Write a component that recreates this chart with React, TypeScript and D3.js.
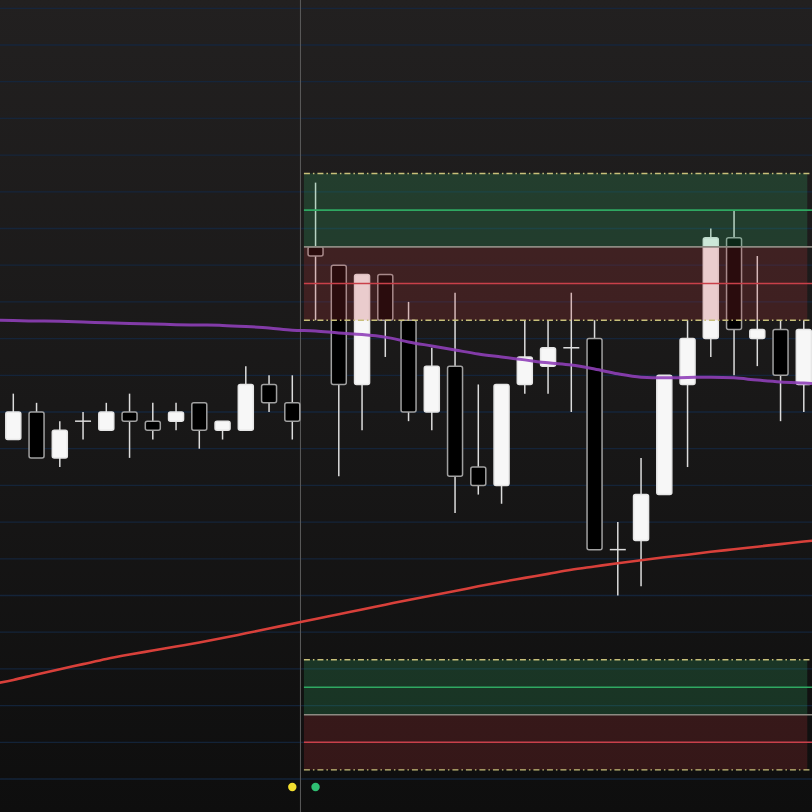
import * as d3 from "d3";

const W = 812;
const H = 812;

// OHLC per bar (index 0..34)
const opens = [
  4489.25, 4490.0, 4488.75, 4489.75, 4489.5, 4490.0, 4489.75, 4489.75, 4490.25, 4489.5, 4489.5, 4490.75, 4490.25,
  4494.5, 4494.0, 4490.75, 4493.75, 4492.5, 4490.0, 4491.25, 4488.5, 4488.0, 4490.75, 4491.25, 4491.75, 4492.0,
  4486.25, 4486.5, 4487.75, 4490.75, 4492.0, 4494.75, 4492.0, 4492.25, 4490.75,
];
const highs = [
  4490.5, 4490.25, 4489.75, 4490.0, 4490.25, 4490.5, 4490.25, 4490.25, 4490.25, 4489.75, 4491.25, 4491.0, 4491.0,
  4496.25, 4494.0, 4493.75, 4493.75, 4493.0, 4491.75, 4493.25, 4490.75, 4490.75, 4492.5, 4492.5, 4493.25, 4492.5,
  4487.0, 4488.75, 4491.0, 4492.5, 4495.0, 4495.5, 4494.25, 4492.5, 4492.5,
];
const lows = [
  4489.25, 4488.75, 4488.5, 4489.25, 4489.5, 4488.75, 4489.25, 4489.5, 4489.0, 4489.25, 4489.5, 4490.0, 4489.25,
  4492.5, 4488.25, 4489.5, 4491.5, 4489.75, 4489.5, 4487.25, 4487.75, 4487.5, 4490.5, 4490.5, 4490.0, 4486.25,
  4485.0, 4485.25, 4487.75, 4488.5, 4491.5, 4491.0, 4491.25, 4489.75, 4490.0,
];
const closes = [
  4490.0, 4488.75, 4489.5, 4489.75, 4490.0, 4489.75, 4489.5, 4490.0, 4489.5, 4489.75, 4490.75, 4490.25, 4489.75,
  4494.25, 4490.75, 4493.75, 4492.5, 4490.0, 4491.25, 4488.25, 4488.0, 4490.75, 4491.5, 4491.75, 4491.75, 4486.25,
  4486.25, 4487.75, 4491.0, 4492.0, 4494.75, 4492.25, 4492.25, 4491.0, 4492.25,
];

// moving averages, index -1..35
const maFast = [
  4492.51, 4492.49, 4492.48, 4492.47, 4492.45, 4492.43, 4492.41, 4492.4, 4492.38, 4492.37, 4492.36, 4492.33, 4492.29,
  4492.23, 4492.21, 4492.15, 4492.11, 4492.04, 4491.91, 4491.8, 4491.69, 4491.58, 4491.5, 4491.42, 4491.34, 4491.28,
  4491.17, 4491.04, 4490.95, 4490.93, 4490.94, 4490.95, 4490.93, 4490.87, 4490.82, 4490.79, 4490.76,
];
const maSlow = [
  4482.57, 4482.7, 4482.85, 4482.99, 4483.13, 4483.27, 4483.39, 4483.5, 4483.61, 4483.72, 4483.84, 4483.97, 4484.1,
  4484.23, 4484.36, 4484.49, 4484.62, 4484.75, 4484.88, 4485.0, 4485.12, 4485.25, 4485.37, 4485.48, 4485.59, 4485.7,
  4485.79, 4485.88, 4485.96, 4486.04, 4486.11, 4486.19, 4486.26, 4486.33, 4486.4, 4486.47, 4486.53,
];

// projected zones
const zoneHighs = [4496.5, 4483.25];
const zoneTargets = [4495.5, 4482.5];
const zoneMids = [4494.5, 4481.75];
const zoneStops = [4493.5, 4481.0];
const zoneLows = [4492.5, 4480.25];
const zoneFrom = 12.5;
const zoneTo = 34.15;

const sessionBreak = 12.35;
const signalIdx = [12, 13];
const signalColors = ["#f3df2f", "#2fbf72"];

const gridLevels = d3.range(4479, 4502, 1);

export default function App() {
  const x = d3.scaleLinear().domain([0, 34]).range([13.3, 803.8]);
  const y = d3.scaleLinear().domain([4480, 4501]).range([779, 8.3]);
  const bodyW = 15;

  const line = d3
    .line<number>()
    .x((_, i) => x(i - 1))
    .y((d) => y(d))
    .curve(d3.curveMonotoneX);

  return (
    <svg
      width={W}
      height={H}
      style={{ position: "absolute", left: 0, top: 0, display: "block" }}
    >
      <defs>
        <linearGradient id="bg" x1="0" y1="0" x2="0" y2="1">
          <stop offset="0" stopColor="#222020" />
          <stop offset="0.5" stopColor="#191818" />
          <stop offset="1" stopColor="#0e0e0e" />
        </linearGradient>
      </defs>
      <rect width={W} height={H} fill="url(#bg)" />

      {gridLevels.map((p) => (
        <line key={p} x1={0} x2={W} y1={y(p)} y2={y(p)} stroke="#142740" strokeWidth={1.3} opacity={0.85} />
      ))}

      <line x1={x(sessionBreak)} x2={x(sessionBreak)} y1={0} y2={H} stroke="#5c5c5c" strokeWidth={1} />

      {/* candles */}
      {opens.map((o, i) => {
        const c = closes[i];
        const cx = x(i);
        const up = c >= o;
        const doji = Math.abs(c - o) < 0.01;
        const top = y(Math.max(o, c));
        const bot = y(Math.min(o, c));
        return (
          <g key={i}>
            <line x1={cx} x2={cx} y1={y(highs[i])} y2={y(lows[i])} stroke="#dcdcdc" strokeWidth={1.5} />
            {doji ? (
              <line x1={cx - 8} x2={cx + 8} y1={top} y2={top} stroke="#dcdcdc" strokeWidth={1.5} />
            ) : (
              <rect
                x={cx - bodyW / 2}
                y={top}
                width={bodyW}
                height={Math.max(1, bot - top)}
                rx={2}
                fill={up ? "#f7f7f7" : "#000"}
                stroke={up ? "#e6e6e6" : "#a0a0a0"}
                strokeWidth={1.5}
              />
            )}
          </g>
        );
      })}

      <path d={line(maSlow) ?? ""} fill="none" stroke="#d8403a" strokeWidth={2.6} />
      <path d={line(maFast) ?? ""} fill="none" stroke="#8f3fb8" strokeWidth={3} opacity={0.9} />

      {/* zones */}
      {zoneHighs.map((hi, k) => {
        const x0 = x(zoneFrom);
        const x1 = x(zoneTo);
        const xEnd = W;
        return (
          <g key={k}>
            <rect x={x0} y={y(hi)} width={x1 - x0} height={y(zoneMids[k]) - y(hi)} fill="rgba(55,182,109,0.22)" />
            <rect
              x={x0}
              y={y(zoneMids[k])}
              width={x1 - x0}
              height={y(zoneLows[k]) - y(zoneMids[k])}
              fill="rgba(190,55,60,0.22)"
            />
            <line x1={x0} x2={xEnd} y1={y(zoneTargets[k])} y2={y(zoneTargets[k])} stroke="#2fa862" strokeWidth={1.6} />
            <line x1={x0} x2={xEnd} y1={y(zoneMids[k])} y2={y(zoneMids[k])} stroke="#8c8a82" strokeWidth={1.6} />
            <line x1={x0} x2={xEnd} y1={y(zoneStops[k])} y2={y(zoneStops[k])} stroke="#c9404a" strokeWidth={1.6} />
            {[hi, zoneLows[k]].map((p) => (
              <line
                key={p}
                x1={x0}
                x2={xEnd}
                y1={y(p)}
                y2={y(p)}
                stroke="#c8c07a"
                strokeWidth={1.4}
                strokeDasharray="6 3 1.5 3"
              />
            ))}
          </g>
        );
      })}

      {signalIdx.map((s, k) => (
        <circle key={s} cx={x(s)} cy={H - 25} r={4.2} fill={signalColors[k]} />
      ))}
    </svg>
  );
}
